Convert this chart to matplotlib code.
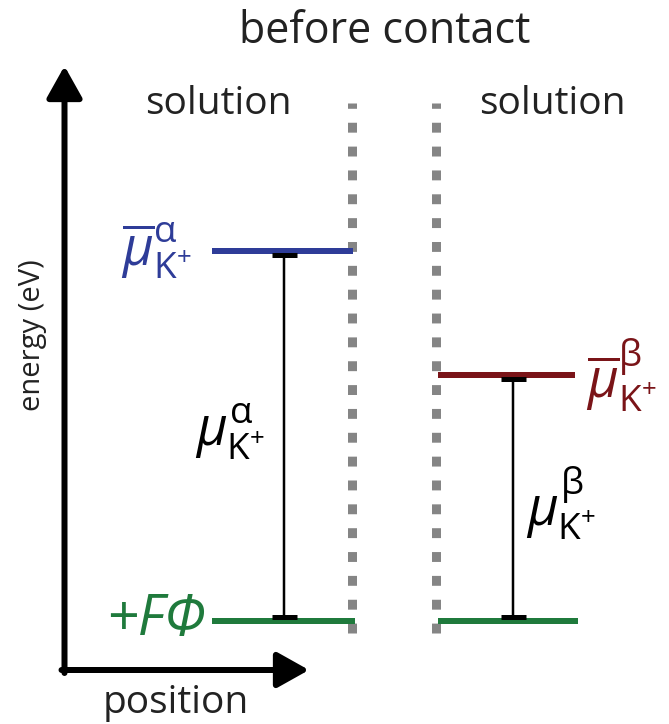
import matplotlib
matplotlib.use("Agg")
import matplotlib.pyplot as plt

# energy levels in arbitrary units, the +F*Phi level taken as zero
phases = ["α", "β"]
mu_bar = [3.70, 2.46]      # electrochemical potential of K+
f_phi = [0.0, 0.0]         # +F*Phi level in each solution
mu_chem = [m - f for m, f in zip(mu_bar, f_phi)]

title = "before contact"
region_labels = ["solution", "solution"]
x_label = "position"
y_label = "energy (eV)"

blue = "#2e3c98"
red = "#7a1418"
green = "#1f7a3c"
gray = "#858585"

plt.rcParams["font.family"] = ["Open Sans", "DejaVu Sans"]
plt.rcParams["mathtext.fontset"] = "custom"
plt.rcParams["mathtext.rm"] = "Open Sans"
plt.rcParams["mathtext.it"] = "Open Sans:italic"

W, H = 669, 724
fig = plt.figure(figsize=(W / 100, H / 100), dpi=100)
ax = fig.add_axes([0, 0, 1, 1])
ax.set_xlim(0, W)
# 100 px per energy unit, zero level at 621 px from top
ax.set_ylim((621 - H) / 100, 621 / 100)
ax.axis("off")


def py(y):
    # pixel row (from top) -> energy coordinate
    return (621 - y) / 100


PX = 0.72  # points per pixel

# axes arrows
ax.annotate("", xy=(64.5, py(66)), xytext=(64.5, py(673)),
            arrowprops=dict(arrowstyle="-|>,head_length=0.75,head_width=0.42",
                            mutation_scale=36 * PX, lw=6 * PX, color="black",
                            shrinkA=0, shrinkB=0))
ax.annotate("", xy=(309, py(670)), xytext=(61.5, py(670)),
            arrowprops=dict(arrowstyle="-|>,head_length=0.75,head_width=0.42",
                            mutation_scale=36 * PX, lw=6 * PX, color="black",
                            shrinkA=0, shrinkB=0))

# dotted boundaries of the two solutions
for xb in (352, 436):
    ax.vlines(xb, py(633), py(103), colors=gray, lw=9 * PX,
              linestyles=(0, (1.1, 1.55)))

# levels: left solution (alpha), right solution (beta)
level_x = [(212, 355), (438, 578)]
level_col = [blue, red]
for (x0, x1), mb, fp, c in zip(level_x, mu_bar, f_phi, level_col):
    ax.hlines(mb, x0, x1 - 3 if c == red else x1 - 2, colors=c, lw=6 * PX)
    ax.hlines(fp, x0, x1, colors=green, lw=6 * PX)

# chemical potential spans
span_x = [283.5, 513]
gap = 0.04
for xs, mb, fp in zip(span_x, mu_bar, f_phi):
    lo, hi = fp + gap, mb - gap
    ax.errorbar(xs, (lo + hi) / 2, yerr=(hi - lo) / 2, fmt="none",
                ecolor="black", elinewidth=2.5 * PX, capsize=12.5 * PX,
                capthick=5 * PX)

# labels
ax.text(385, py(32), title, ha="center", va="center", fontsize=31,
        color="#222222")
ax.text(218, py(104), region_labels[0], ha="center", va="center",
        fontsize=28, color="#222222")
ax.text(552, py(104), region_labels[1], ha="center", va="center",
        fontsize=28, color="#222222")
ax.text(176, py(713), x_label, ha="center", va="baseline", fontsize=28,
        color="#222222")
ax.text(33, py(335), y_label, ha="center", va="center", rotation=90,
        fontsize=21, color="#222222")

ax.text(192, mu_bar[0], r"$\overline{\mu}_{\mathrm{K}^{+}}^{\mathrm{%s}}$" % phases[0],
        ha="right", va="center", fontsize=38, color=blue)
ax.text(586, mu_bar[1], r"$\overline{\mu}_{\mathrm{K}^{+}}^{\mathrm{%s}}$" % phases[1],
        ha="left", va="center", fontsize=38, color=red)
ax.text(195, py(432), r"$\mu_{\mathrm{K}^{+}}^{\mathrm{%s}}$" % phases[0],
        ha="left", va="center", fontsize=38, color="black")
ax.text(526, py(503), r"$\mu_{\mathrm{K}^{+}}^{\mathrm{%s}}$" % phases[1],
        ha="left", va="center", fontsize=38, color="black")
ax.text(206, f_phi[0], "+FΦ", ha="right", va="center", fontsize=40,
        style="italic", color=green)

fig.savefig("out.png", dpi=100)
